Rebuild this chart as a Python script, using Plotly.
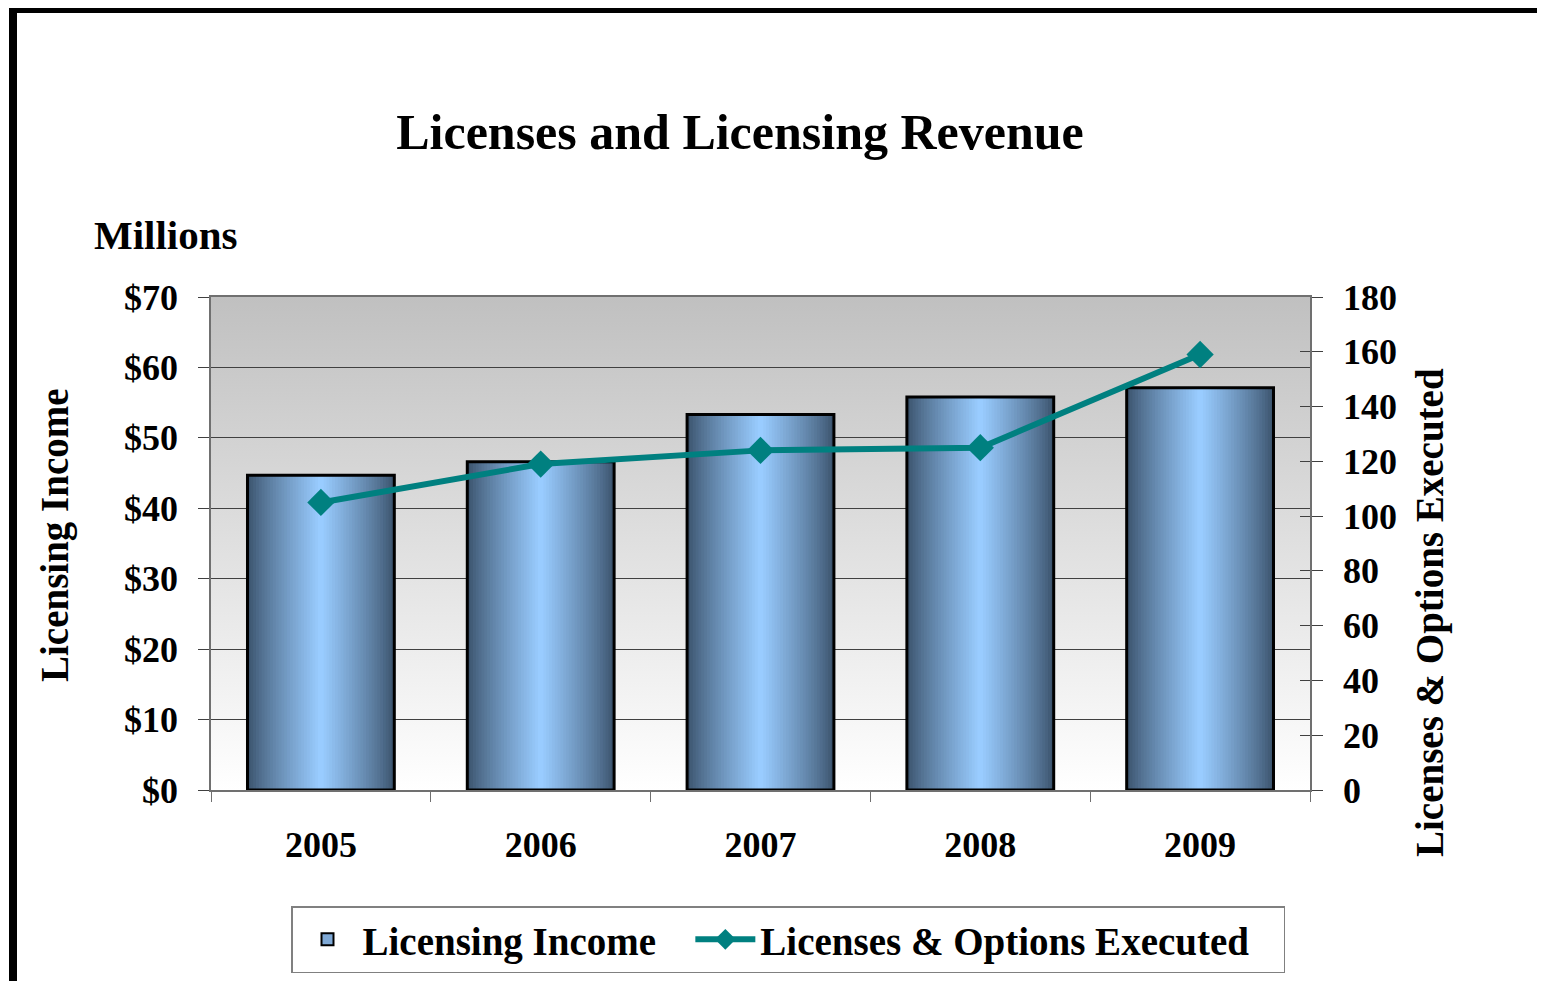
import base64
import plotly.graph_objects as go

# ---------------- data ----------------
years = ["2005", "2006", "2007", "2008", "2009"]
licensing_income = [44.7, 46.6, 53.3, 55.8, 57.1]          # $ millions (left axis)
licenses_executed = [105, 119, 124, 125, 159]              # count (right axis)
left_tick_vals = [0, 10, 20, 30, 40, 50, 60, 70]
left_tick_text = ["$0", "$10", "$20", "$30", "$40", "$50", "$60", "$70"]
right_tick_vals = [0, 20, 40, 60, 80, 100, 120, 140, 160, 180]

# ---------------- layout geometry ----------------
OFF = 8                       # page body margin
W, H = 1529, 973
PW, PH = 1099, 493
ML, MT = 211 - OFF, 297 - OFF
MR, MB = W - ML - PW, H - MT - PH


def px(sx):
    return (sx - OFF - ML) / PW


def py(sy):
    return (MT + PH - (sy - OFF)) / PH


FONT = "Liberation Serif"
BAR_W = 0.668
EDGE = (60, 84, 110)
CENTER = (153, 204, 255)
N_STEPS = 26
NBSP = "\u00a0"

fig = go.Figure()

# gradient bars: overlaid bars of decreasing width, dark edges -> light centre
for k in range(N_STEPS):
    t = (k / (N_STEPS - 1)) ** 0.85
    col = tuple(round(EDGE[i] + (CENTER[i] - EDGE[i]) * t) for i in range(3))
    fig.add_trace(go.Bar(
        x=years, y=licensing_income,
        width=BAR_W * (1 - k / N_STEPS),
        marker=dict(color="rgb(%d,%d,%d)" % col, line=dict(width=0)),
        showlegend=False, hoverinfo="skip", yaxis="y",
    ))

# outline of the bars
fig.add_trace(go.Bar(
    x=years, y=licensing_income, width=BAR_W,
    marker=dict(color="rgba(0,0,0,0)", line=dict(color="black", width=3)),
    showlegend=False, name="Licensing Income", yaxis="y",
))

# legend entry for bars
fig.add_trace(go.Bar(
    x=years, y=[None] * len(years), width=BAR_W,
    marker=dict(color="#7fa9d6", line=dict(color="black", width=2)),
    name="Licensing Income" + NBSP * 3, showlegend=True, yaxis="y",
))

# line on right axis
fig.add_trace(go.Scatter(
    x=years, y=licenses_executed, yaxis="y2",
    mode="lines+markers", name="Licenses & Options Executed" + NBSP * 3,
    line=dict(color="#008080", width=6),
    marker=dict(symbol="diamond", size=21, color="#008080"),
))

# invisible companion trace so the inner tick marks of the right axis are drawn
fig.add_trace(go.Scatter(
    x=years, y=licenses_executed, yaxis="y3", mode="none",
    showlegend=False, hoverinfo="skip",
))

# background gradient for plot area (SVG data URI)
svg = ("<svg xmlns='http://www.w3.org/2000/svg' width='100' height='100' preserveAspectRatio='none'>"
       "<defs><linearGradient id='g' x1='0' y1='0' x2='0' y2='1'>"
       "<stop offset='0' stop-color='#c0c0c0'/><stop offset='1' stop-color='#ffffff'/>"
       "</linearGradient></defs><rect width='100' height='100' fill='url(#g)'/></svg>")
img_src = "data:image/svg+xml;base64," + base64.b64encode(svg.encode()).decode()

tick_font = dict(family=FONT, size=36, color="black", weight="bold")
text_font = dict(family=FONT, size=39, color="black", weight="bold")

fig.update_layout(
    width=W, height=H,
    margin=dict(l=ML, r=MR, t=MT, b=MB, autoexpand=False),
    paper_bgcolor="white", plot_bgcolor="rgba(0,0,0,0)",
    barmode="overlay",
    title=dict(text="Licenses and Licensing Revenue", x=(740 - OFF) / W, xanchor="center",
               y=1 - (131 - OFF) / H, yanchor="middle",
               font=dict(family=FONT, size=50, color="black", weight="bold")),
    xaxis=dict(type="category", tickson="boundaries", ticks="outside", ticklen=10,
               tickcolor="#707070", showline=True, linecolor="#707070", linewidth=1.5,
               mirror=True, showgrid=False, tickfont=tick_font, ticklabelstandoff=22,
               range=[-0.5, 4.5]),
    yaxis=dict(range=[0, 70], tickvals=left_tick_vals, ticktext=left_tick_text,
               ticks="outside", ticklen=11, tickcolor="#404040", showline=True,
               linecolor="#707070", linewidth=1.5, showgrid=True, gridcolor="#404040",
               gridwidth=1, tickfont=tick_font, ticklabelstandoff=13, zeroline=False),
    yaxis2=dict(range=[0, 180], tickvals=right_tick_vals, overlaying="y", side="right",
                anchor="x", ticks="outside", ticklen=11, tickcolor="#404040",
                showline=True, linecolor="#707070", linewidth=1.5, showgrid=False,
                zeroline=False, tickfont=tick_font, ticklabelstandoff=13),
    yaxis3=dict(range=[0, 180], tickvals=right_tick_vals, overlaying="y", side="right",
                anchor="x", ticks="inside", ticklen=10, tickcolor="#404040",
                showline=False, showgrid=False, zeroline=False, showticklabels=False),
    legend=dict(orientation="h", x=px(788), xanchor="center", y=py(906), yanchor="top",
                bgcolor="white", bordercolor="#808080", borderwidth=1.5,
                font=text_font, itemwidth=60, traceorder="normal"),
    images=[dict(source=img_src, xref="paper", yref="paper", x=0, y=1, sizex=1, sizey=1,
                 xanchor="left", yanchor="top", sizing="stretch", layer="below")],
    annotations=[
        dict(text="Millions", xref="paper", yref="paper", x=px(92), y=py(235),
             xanchor="left", yanchor="middle", showarrow=False,
             font=dict(family=FONT, size=41, color="black", weight="bold")),
        dict(text="Licensing Income", xref="paper", yref="paper", x=px(55), y=py(535),
             xanchor="center", yanchor="middle", textangle=-90, showarrow=False,
             font=text_font),
        dict(text="Licenses & Options Executed", xref="paper", yref="paper", x=px(1430),
             y=py(613), xanchor="center", yanchor="middle", textangle=-90,
             showarrow=False, font=text_font),
    ],
    shapes=[
        # outer frame (top and left thick black borders)
        dict(type="rect", xref="paper", yref="paper", x0=px(9), x1=px(1560),
             y0=py(13), y1=py(0), line=dict(width=0), fillcolor="black", layer="above"),
        dict(type="rect", xref="paper", yref="paper", x0=px(9), x1=px(17),
             y0=py(1000), y1=py(0), line=dict(width=0), fillcolor="black", layer="above"),
    ],
)

fig.write_html("out.html")
